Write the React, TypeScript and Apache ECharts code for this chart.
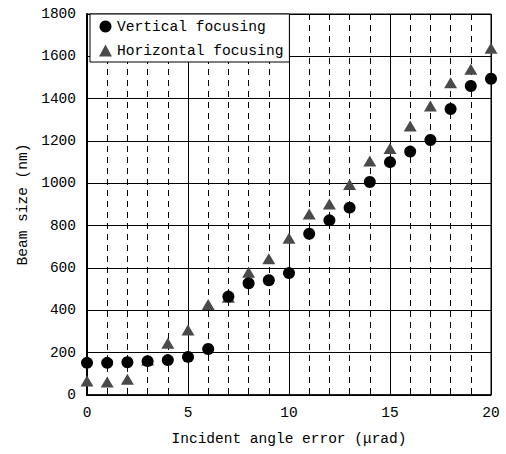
import React, { useEffect, useRef } from "react";
import * as echarts from "echarts";

const angles = [0, 1, 2, 3, 4, 5, 6, 7, 8, 9, 10, 11, 12, 13, 14, 15, 16, 17, 18, 19, 20];
const vertical = [152, 152, 155, 160, 165, 180, 217, 465, 528, 542, 576, 762, 825, 885, 1006, 1100, 1150, 1205, 1351, 1460, 1494];
const horizontal = [66, 62, 75, 165, 244, 307, 428, 462, 580, 644, 740, 855, 902, 995, 1105, 1165, 1271, 1365, 1475, 1539, 1638];
const seriesNames = ["Vertical focusing", "Horizontal focusing"];
const xTitle = "Incident angle error (\u03bcrad)";
const yTitle = "Beam size (nm)";

const FONT = "Liberation Mono";

export default function App() {
  const ref = useRef<HTMLDivElement>(null);
  useEffect(() => {
    if (!ref.current) return;
    const chart = echarts.init(ref.current, null, { renderer: "svg" });
    chart.setOption({
      animation: false,
      backgroundColor: "#fff",
      textStyle: { fontFamily: FONT },
      grid: {
        left: 87,
        right: 15,
        top: 14,
        bottom: 59,
        show: true,
        borderColor: "#000",
        borderWidth: 1,
      },
      legend: {
        orient: "vertical",
        left: 90,
        top: 14,
        backgroundColor: "#fff",
        borderColor: "#000",
        borderWidth: 1,
        borderRadius: 0,
        padding: [5, 6, 4, 9],
        itemGap: 9,
        itemWidth: 13,
        itemHeight: 12,
        textStyle: { fontFamily: FONT, fontSize: 14.6, color: "#000" },
        data: seriesNames,
      },
      xAxis: {
        type: "value",
        min: 0,
        max: 20,
        interval: 5,
        name: xTitle,
        nameLocation: "middle",
        nameGap: 36,
        nameTextStyle: { fontFamily: FONT, fontSize: 14.5, color: "#000" },
        axisLine: { lineStyle: { color: "#000", width: 1.5 } },
        axisTick: { show: false },
        axisLabel: { fontFamily: FONT, fontSize: 14.5, color: "#000", margin: 10 },
        splitLine: { show: true, lineStyle: { color: "#000", width: 1 } },
        minorTick: { show: false, splitNumber: 5 },
        minorSplitLine: { show: true, lineStyle: { color: "#000", width: 1, type: [6, 5] } },
      },
      yAxis: {
        type: "value",
        min: 0,
        max: 1800,
        interval: 200,
        name: yTitle,
        nameLocation: "middle",
        nameGap: 44,
        nameTextStyle: { fontFamily: FONT, fontSize: 14.5, color: "#000" },
        axisLine: { show: true, lineStyle: { color: "#000", width: 2 } },
        axisTick: { show: false },
        axisLabel: {
          fontFamily: FONT,
          fontSize: 14.5,
          color: "#000",
          margin: 11,
          formatter: (v: number) => String(v),
        },
        splitLine: { show: true, lineStyle: { color: "#000", width: 1 } },
      },
      series: [
        {
          name: seriesNames[1],
          type: "scatter",
          symbol: "triangle",
          symbolSize: [13, 11],
          itemStyle: { color: "#4a4a4a", opacity: 1 },
          data: angles.map((a, i) => [a, horizontal[i]]),
          z: 2,
        },
        {
          name: seriesNames[0],
          type: "scatter",
          symbol: "circle",
          symbolSize: 12,
          itemStyle: { color: "#000", opacity: 1 },
          data: angles.map((a, i) => [a, vertical[i]]),
          z: 3,
        },
      ],
    });
    return () => chart.dispose();
  }, []);
  return <div ref={ref} style={{ width: 506, height: 454, position: "absolute", left: 0, top: 0 }} />;
}
